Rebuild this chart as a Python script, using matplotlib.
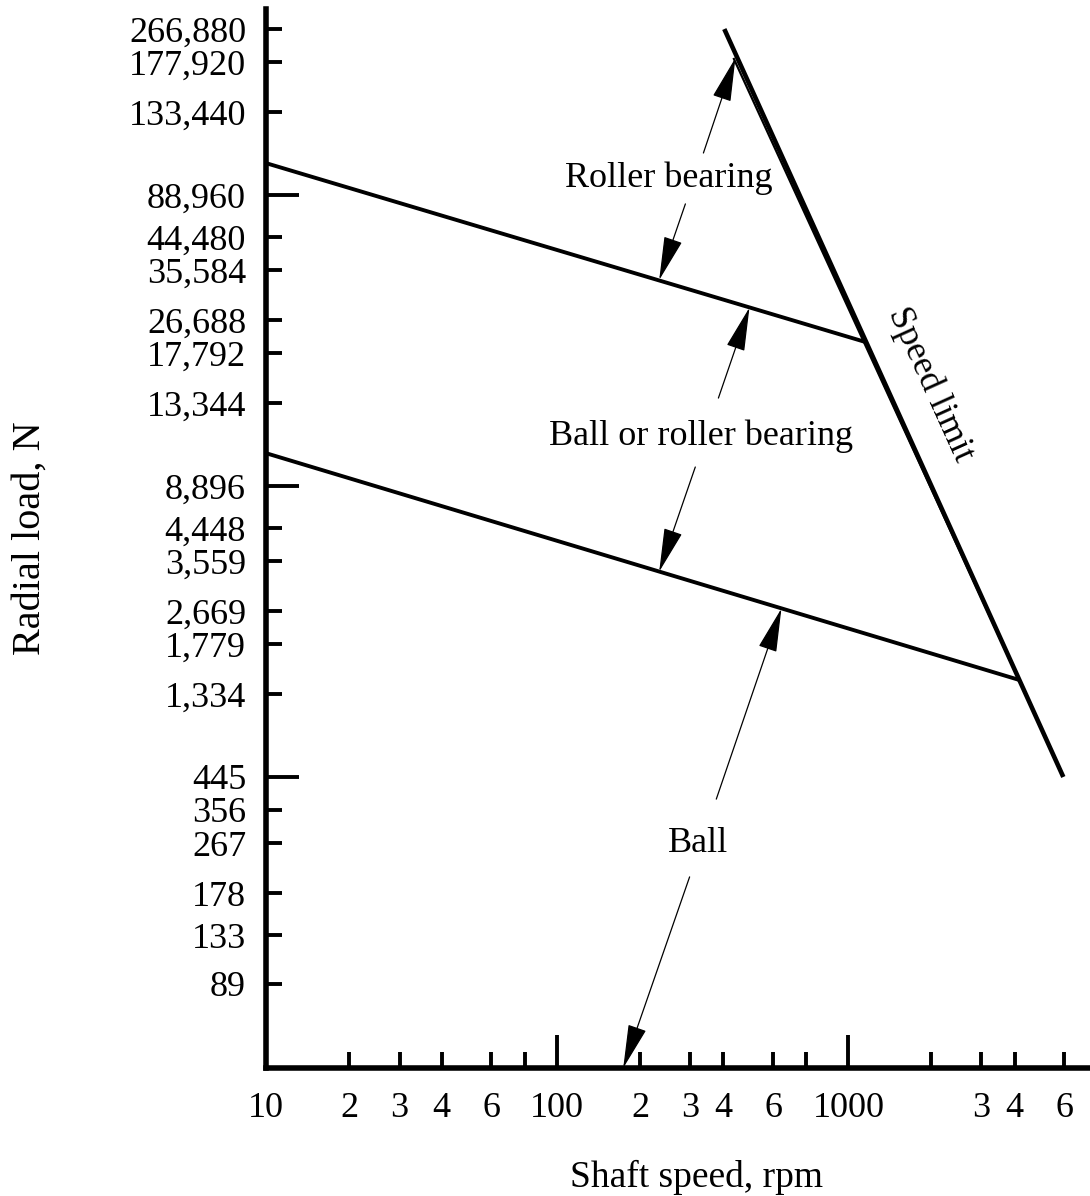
import numpy as np
import matplotlib
matplotlib.use("Agg")
import matplotlib.pyplot as plt

plt.rcParams['font.family'] = ['Liberation Serif', 'DejaVu Serif']

# shaft speed (rpm) and radial load (N) of the three boundary lines
roller_speed = [10, 1152]
roller_load = [104000, 20370]
ball_speed = [10, 4166]
ball_load = [10450, 1446]
limit_speed = [403, 5950]
limit_load = [266880, 445]
# second stroke of the speed limit line (from the upper arrow down to the ball line)
limit2_speed = [434, 4150]
limit2_load = [186900, 1446]

# axis ticks as printed on the chart
x_major = [10, 100, 1000]
x_major_labels = ["10", "100", "1000"]
x_minor = [20, 30, 40, 60, 80, 200, 300, 400, 600, 800, 2000, 3000, 4000, 6000]
x_minor_labels = ["2", "3", "4", "6", "", "2", "3", "4", "6", "", "", "3", "4", "6"]
y_major = [445, 8896, 88960]
y_minor = [89, 133, 178, 267, 356, 1334, 1779, 2669, 3559, 4448,
           13344, 17792, 26688, 35584, 44480, 133440, 177920, 266880]

# the printed graph paper is not a true log grid: value -> position (decades)
x_grid_vals = [10, 20, 30, 40, 60, 80, 100, 200, 300, 400, 600, 800,
               1000, 2000, 3000, 4000, 6000, 8000]
x_grid_pos = [0, 0.288, 0.460, 0.604, 0.775, 0.889, 1.0, 1.286, 1.458, 1.571,
              1.743, 1.856, 2.0, 2.285, 2.456, 2.570, 2.741, 2.856]
y_grid_vals = [44.5, 89, 133, 178, 267, 356, 445, 1334, 1779, 2669, 3559, 4448,
               8896, 13344, 17792, 26688, 35584, 44480, 88960, 133440, 177920,
               266880, 355840]
y_grid_pos = [0, 0.289, 0.457, 0.601, 0.773, 0.887, 1.0, 1.285, 1.457, 1.570,
              1.742, 1.856, 2.0, 2.285, 2.457, 2.570, 2.742, 2.856, 3.0, 3.285,
              3.457, 3.570, 3.742]


def paper_scale(vals, pos):
    lv = np.log10(vals)
    pos = np.asarray(pos, float)

    def fwd(v):
        lg = np.log10(np.clip(np.asarray(v, float), 1e-9, None))
        out = np.interp(lg, lv, pos)
        lo = pos[0] + (lg - lv[0]) * (pos[1] - pos[0]) / (lv[1] - lv[0])
        hi = pos[-1] + (lg - lv[-1]) * (pos[-1] - pos[-2]) / (lv[-1] - lv[-2])
        return np.where(lg < lv[0], lo, np.where(lg > lv[-1], hi, out))

    def inv(u):
        u = np.asarray(u, float)
        out = np.interp(u, pos, lv)
        lo = lv[0] + (u - pos[0]) * (lv[1] - lv[0]) / (pos[1] - pos[0])
        hi = lv[-1] + (u - pos[-1]) * (lv[-1] - lv[-2]) / (pos[-1] - pos[-2])
        return 10 ** np.where(u < pos[0], lo, np.where(u > pos[-1], hi, out))

    return fwd, inv


fig = plt.figure(figsize=(10.9, 11.96), dpi=100)
ax = fig.add_axes([0.2436, 0.1070, 0.7564, 0.8855])

xf, xi = paper_scale(x_grid_vals, x_grid_pos)
yf, yi = paper_scale(y_grid_vals, y_grid_pos)
ax.set_xscale('function', functions=(xf, xi))
ax.set_yscale('function', functions=(yf, yi))
ax.set_xlim(10, float(xi(2.829)))
ax.set_ylim(44.5, float(yi(3.639)))

ax.plot(roller_speed, roller_load, color='black', lw=2.8, solid_capstyle='butt')
ax.plot(ball_speed, ball_load, color='black', lw=2.8, solid_capstyle='butt')
ax.plot(limit_speed, limit_load, color='black', lw=3.3, solid_capstyle='butt')
ax.plot(limit2_speed, limit2_load, color='black', lw=1.6, solid_capstyle='butt')

# axes
for side in ['top', 'right']:
    ax.spines[side].set_visible(False)
for side in ['left', 'bottom']:
    ax.spines[side].set_linewidth(4)
    ax.spines[side].set_capstyle('projecting')

ax.set_xticks(x_major, x_major_labels)
ax.set_xticks(x_minor, x_minor_labels, minor=True)
ax.set_yticks(y_major, [f"{v:,}" for v in y_major])
ax.set_yticks(y_minor, [f"{v:,}" for v in y_minor], minor=True)
ax.tick_params(which='both', direction='in', width=2.8, labelsize=26, color='black')
ax.tick_params(which='major', length=24)
ax.tick_params(which='minor', length=11.5)
ax.tick_params(axis='x', which='both', pad=17)
ax.tick_params(axis='y', which='both', pad=14)

ax.set_xlabel("Shaft speed, rpm", fontsize=27)
ax.xaxis.set_label_coords(0.5234, -0.087)
ax.set_ylabel("Radial load, N", fontsize=29, va='center')
ax.yaxis.set_label_coords(-0.2856, 0.5)

# annotations
arrow = dict(arrowstyle="-|>,head_length=2.8,head_width=0.6", mutation_scale=10,
             lw=0.9, color='black', shrinkA=0, shrinkB=0)
text_kw = dict(fontsize=26, ha='center', va='baseline')

ax.text(251, 92500, "Roller bearing", **text_kw)
ax.annotate("", xy=(441, 186900), xytext=(336, 109200), arrowprops=arrow)
ax.annotate("", xy=(233, 33600), xytext=(288, 76700), arrowprops=arrow)

ax.text(330, 10870, "Ball or roller bearing", **text_kw)
ax.annotate("", xy=(494, 28680), xytext=(383, 13730), arrowprops=arrow)
ax.annotate("", xy=(233, 3348), xytext=(313, 9760), arrowprops=arrow)

ax.text(322, 248, "Ball", **text_kw)
ax.annotate("", xy=(643, 2709), xytext=(376, 383), arrowprops=arrow)
ax.annotate("", xy=(173.5, 44.5), xytext=(298, 203), arrowprops=arrow)

ax.text(1984, 14800, "Speed limit", fontsize=26, rotation=-65.6,
        rotation_mode='anchor', ha='center', va='center')

fig.savefig("out.png", dpi=100)
